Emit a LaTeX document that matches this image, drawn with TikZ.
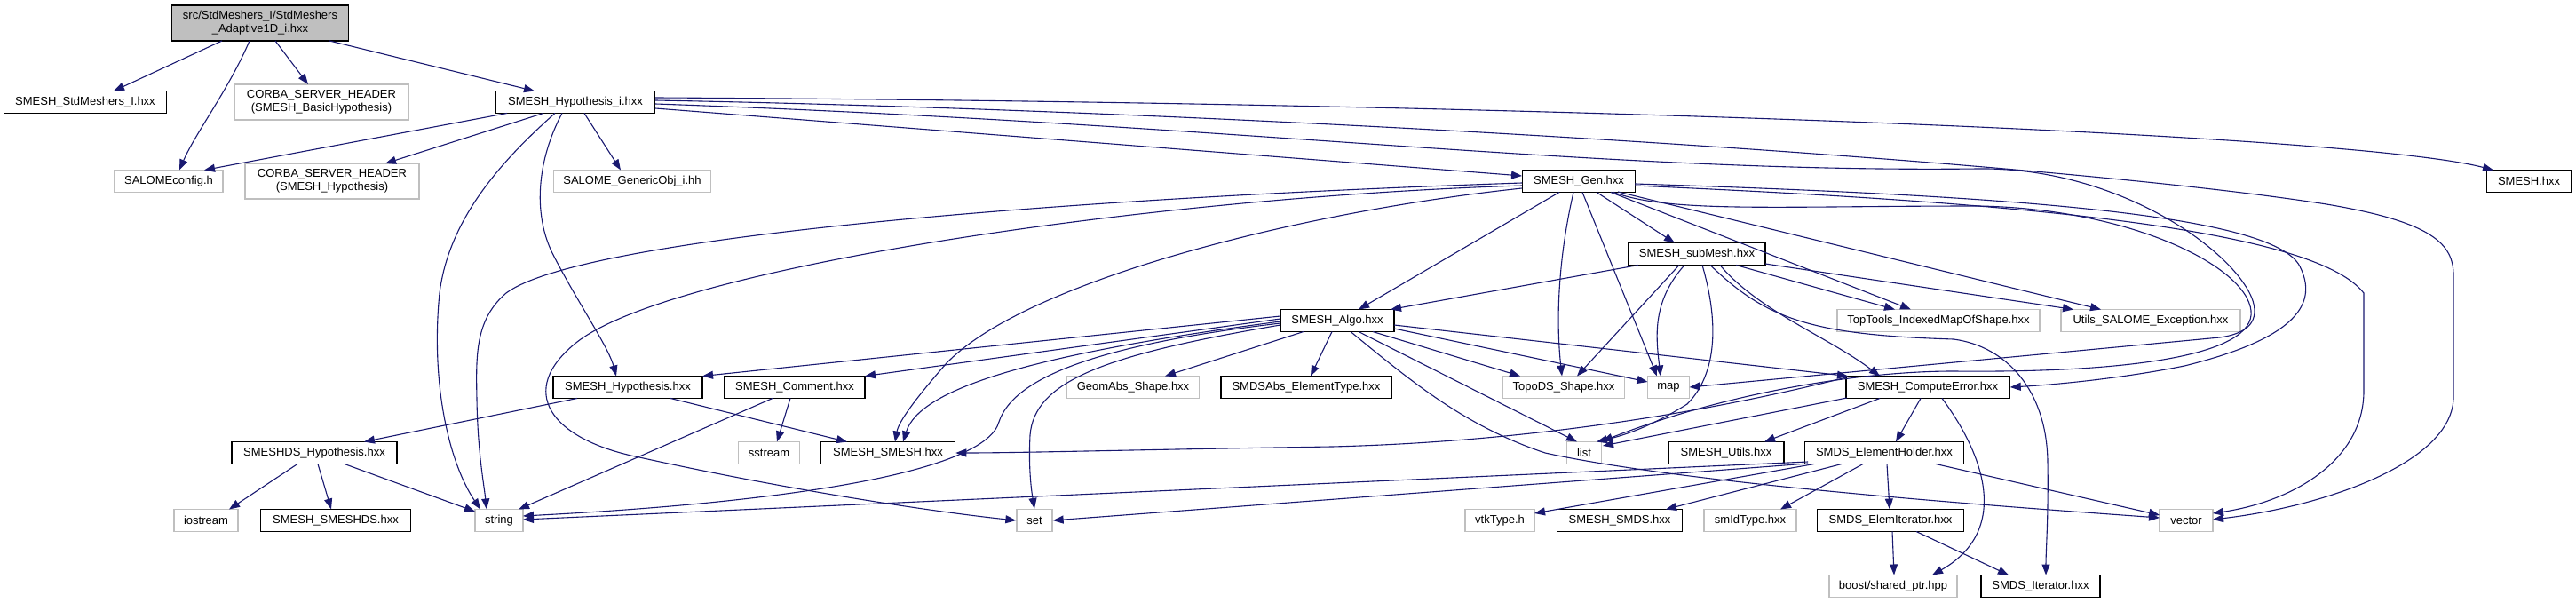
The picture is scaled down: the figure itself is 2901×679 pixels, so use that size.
\documentclass[tikz,border=0pt]{standalone}
\usepackage{fontspec}
\setmainfont{Liberation Sans}
\usetikzlibrary{arrows.meta,calc}
\definecolor{ec}{HTML}{191970}
\definecolor{gb}{HTML}{BFBFBF}
\definecolor{rootfill}{HTML}{BFBFBF}
\tikzset{
  nb/.style={draw=black, line width=1.5pt, fill=white, minimum height=25pt, inner sep=0pt, font=\fontsize{13}{15}\selectfont},
  ng/.style={draw=gb, line width=1.3pt, fill=white, minimum height=25pt, inner sep=0pt, font=\fontsize{13}{15}\selectfont},
  e/.style={draw=ec, line width=1.1pt, -{Triangle[length=12pt,width=9pt]}}
}
\begin{document}
\begin{tikzpicture}[x=1pt,y=-1pt]
\useasboundingbox (0,0) rectangle (2901,679);
% nodes
\node[nb, fill=rootfill, minimum width=199pt, minimum height=40pt, align=center] (root) at (293,26) {src/StdMeshers\_I/StdMeshers\\\_Adaptive1D\_i.hxx};
\node[nb, minimum width=183pt] (stdi) at (96,115) {SMESH\_StdMeshers\_I.hxx};
\node[ng, minimum width=196pt, minimum height=40pt, align=center] (corbab) at (362,115) {CORBA\_SERVER\_HEADER\\(SMESH\_BasicHypothesis)};
\node[nb, minimum width=179pt] (hypi) at (648,115) {SMESH\_Hypothesis\_i.hxx};
\node[ng, minimum width=122pt] (salcfg) at (190,204) {SALOMEconfig.h};
\node[ng, minimum width=196pt, minimum height=40pt, align=center] (corbah) at (374,204) {CORBA\_SERVER\_HEADER\\(SMESH\_Hypothesis)};
\node[ng, minimum width=177pt] (gobj) at (712,204) {SALOME\_GenericObj\_i.hh};
\node[nb, minimum width=127pt] (gen) at (1778,204) {SMESH\_Gen.hxx};
\node[nb, minimum width=95pt] (smesh) at (2848,204) {SMESH.hxx};
\node[nb, minimum width=154pt] (submesh) at (1911,286) {SMESH\_subMesh.hxx};
\node[nb, minimum width=128pt] (algo) at (1506,361) {SMESH\_Algo.hxx};
\node[ng, minimum width=228pt] (toptools) at (2183,361) {TopTools\_IndexedMapOfShape.hxx};
\node[ng, minimum width=202pt] (utils) at (2422,361) {Utils\_SALOME\_Exception.hxx};
\node[nb, minimum width=168pt] (hyp) at (707,436) {SMESH\_Hypothesis.hxx};
\node[nb, minimum width=158pt] (comment) at (895,436) {SMESH\_Comment.hxx};
\node[ng, minimum width=149pt] (geomabs) at (1276,436) {GeomAbs\_Shape.hxx};
\node[nb, minimum width=192pt] (smdsabs) at (1471,436) {SMDSAbs\_ElementType.hxx};
\node[ng, minimum width=137pt] (topods) at (1761,436) {TopoDS\_Shape.hxx};
\node[ng, minimum width=47pt] (map) at (1879,436) {map};
\node[nb, minimum width=184pt] (comperr) at (2171,436) {SMESH\_ComputeError.hxx};
\node[nb, minimum width=186pt] (smeshdshyp) at (354,510) {SMESHDS\_Hypothesis.hxx};
\node[ng, minimum width=69pt] (sstream) at (866,510) {sstream};
\node[nb, minimum width=151pt] (smeshsmesh) at (1000,510) {SMESH\_SMESH.hxx};
\node[ng, minimum width=39pt] (list) at (1784,510) {list};
\node[nb, minimum width=130pt] (utilsh) at (1944,510) {SMESH\_Utils.hxx};
\node[nb, minimum width=179pt] (elemholder) at (2122,510) {SMDS\_ElementHolder.hxx};
\node[ng, minimum width=72pt] (iostream) at (232,586) {iostream};
\node[nb, minimum width=169pt] (smeshds) at (378,586) {SMESH\_SMESHDS.hxx};
\node[ng, minimum width=54pt] (string) at (562,586) {string};
\node[ng, minimum width=40pt] (set) at (1165,586) {set};
\node[ng, minimum width=78pt] (vtk) at (1689,586) {vtkType.h};
\node[nb, minimum width=141pt] (smds) at (1824,586) {SMESH\_SMDS.hxx};
\node[ng, minimum width=104pt] (smid) at (1971,586) {smIdType.hxx};
\node[nb, minimum width=165pt] (elemit) at (2129,586) {SMDS\_ElemIterator.hxx};
\node[ng, minimum width=60pt] (vector) at (2462,586) {vector};
\node[ng, minimum width=144pt] (boost) at (2132,660) {boost/shared\_ptr.hpp};
\node[nb, minimum width=134pt] (smdsit) at (2298,660) {SMDS\_Iterator.hxx};
% root edges
\draw[e] ($(root)+(-43,20)$) -- ($(stdi)+(32,-12.5)$);
\draw[e] ($(root)+(-12,20)$) .. controls (258,100) and (220,150) .. ($(salcfg)+(12,-12.5)$);
\draw[e] ($(root)+(17,20)$) -- ($(corbab)+(-15,-20)$);
\draw[e] ($(root)+(78,20)$) -- ($(hypi)+(-46,-12.5)$);
% hypi edges
\draw[e] ($(hypi)+(-77,12.5)$) -- ($(salcfg)+(40,-12.5)$);
\draw[e] ($(hypi)+(-36,12.5)$) -- ($(corbah)+(60,-20)$);
\draw[e] ($(hypi)+(10,12.5)$) -- ($(gobj)+(-13,-12.5)$);
\draw[e] ($(hypi)+(-23,12.5)$) .. controls (560,185) and (505,250) .. (495,330) .. controls (485,430) and (505,520) .. ($(string)+(-21,-12.5)$);
\draw[e] ($(hypi)+(-15,12.5)$) .. controls (605,180) and (600,240) .. (622,285) .. controls (650,340) and (685,390) .. ($(hyp)+(-13,-12.5)$);
\draw[e] ($(hypi)+(90,7)$) -- ($(gen)+(-64,-6)$);
\draw[e] ($(hypi)+(90,-5)$) .. controls (1700,115) and (2650,150) .. ($(smesh)+(-40,-12.5)$);
\draw[e] ($(hypi)+(90,-2)$) .. controls (1400,125) and (2300,180) .. (2620,230) .. controls (2740,250) and (2763,275) .. (2763,310) -- (2763,447) .. controls (2763,520) and (2620,570) .. ($(vector)+(30,-1)$);
\draw[e] ($(hypi)+(90,2)$) .. controls (1400,140) and (1800,195) .. (2228,190) .. controls (2400,188) and (2539,300) .. (2539,350) .. controls (2539,370) and (2520,377) .. (2500,380) -- ($(map)+(23.5,0)$);
% gen edges
\draw[e] ($(gen)+(-22,12.5)$) -- ($(algo)+(24,-12.5)$);
\draw[e] ($(gen)+(-6,12.5)$) .. controls (1755,290) and (1752,360) .. ($(topods)+(-2,-12.5)$);
\draw[e] ($(gen)+(4,12.5)$) -- ($(map)+(-13,-12.5)$);
\draw[e] ($(gen)+(20,12.5)$) -- ($(submesh)+(-25,-12.5)$);
\draw[e] ($(gen)+(36,12.5)$) -- ($(toptools)+(-31,-12.5)$);
\draw[e] ($(gen)+(44,12)$) -- ($(utils)+(-56,-12.5)$);
\draw[e] ($(gen)+(-64,8)$) .. controls (1450,240) and (1150,320) .. (1065,410) .. controls (1030,450) and (1012,475) .. ($(smeshsmesh)+(8,-12.5)$);
\draw[e] ($(gen)+(-64,2)$) .. controls (1150,225) and (650,270) .. (570,330) .. controls (535,360) and (536,400) .. (537,450) .. controls (538,510) and (545,545) .. ($(string)+(-14,-12.5)$);
\draw[e] ($(gen)+(-64,5)$) .. controls (1300,222) and (760,300) .. (650,385) .. controls (580,440) and (620,495) .. (720,515) .. controls (880,550) and (1040,575) .. (set.west);
\draw[e] ($(gen)+(63,5)$) .. controls (2200,225) and (2600,250) .. (2662,330) -- (2662,440) .. controls (2662,520) and (2580,565) .. ($(vector)+(30,-8)$);
\draw[e] ($(gen)+(63,3)$) .. controls (2250,220) and (2560,240) .. (2590,300) .. controls (2610,340) and (2590,380) .. (2460,412) .. controls (2380,428) and (2300,434) .. (comperr.east);
\draw[e] ($(gen)+(39,12.5)$) .. controls (1880,240) and (2000,232) .. (2228,232) .. controls (2400,235) and (2530,300) .. (2535,350) .. controls (2540,400) and (2400,420) .. (2200,418) .. controls (2100,418) and (1950,440) .. (list.north east);
% submesh edges
\draw[e] ($(submesh)+(-66,12.5)$) -- ($(algo)+(60,-12.5)$);
\draw[e] ($(submesh)+(-20,12.5)$) -- ($(topods)+(15,-12.5)$);
\draw[e] ($(submesh)+(-14,12.5)$) .. controls (1860,340) and (1865,380) .. ($(map)+(-9,-12.5)$);
\draw[e] ($(submesh)+(6,12.5)$) .. controls (1935,360) and (1935,420) .. (1900,455) .. controls (1860,480) and (1830,490) .. ($(list)+(14,-12.5)$);
\draw[e] ($(submesh)+(44,12.5)$) -- ($(toptools)+(-49,-12.5)$);
\draw[e] ($(submesh)+(77,11)$) -- ($(utils)+(-87,-12.5)$);
\draw[e] ($(submesh)+(26,12.5)$) .. controls (1980,350) and (2060,380) .. ($(comperr)+(-54,-12.5)$);
\draw[e] ($(submesh)+(15,12.5)$) .. controls (1990,360) and (2040,377) .. (2200,382) .. controls (2260,390) and (2305,440) .. (2306,520) .. controls (2307,580) and (2304,620) .. ($(smdsit)+(6,-12.5)$);
% algo edges
\draw[e] ($(algo)+(-64,-5)$) -- ($(hyp)+(84,-12.5)$);
\draw[e] ($(algo)+(-64,-2)$) -- ($(comment)+(79,-12.5)$);
\draw[e] ($(algo)+(-64,1)$) .. controls (1150,400) and (1035,440) .. ($(smeshsmesh)+(17,-12.5)$);
\draw[e] ($(algo)+(-64,3)$) .. controls (1220,390) and (1140,430) .. (1125,475) .. controls (1110,530) and (900,565) .. ($(string)+(27,-5)$);
\draw[e] ($(algo)+(-64,5)$) .. controls (1240,400) and (1165,430) .. (1160,490) .. controls (1158,530) and (1162,555) .. (set.north);
\draw[e] ($(algo)+(-38,12.5)$) -- ($(geomabs)+(36,-12.5)$);
\draw[e] ($(algo)+(-6,12.5)$) -- ($(smdsabs)+(5,-12.5)$);
\draw[e] ($(algo)+(40,12.5)$) -- ($(topods)+(-49,-12.5)$);
\draw[e] ($(algo)+(64,9)$) -- ($(map)+(-23.5,-6)$);
\draw[e] ($(algo)+(64,5)$) -- ($(comperr)+(-90,-12.5)$);
\draw[e] ($(algo)+(24,12.5)$) -- ($(list)+(-8,-12.5)$);
\draw[e] ($(algo)+(15,12.5)$) .. controls (1590,430) and (1650,480) .. (1740,510) .. controls (1900,545) and (2250,570) .. ($(vector)+(-30,-3)$);
% hyp, comment, smeshdshyp
\draw[e] ($(hyp)+(-57,12.5)$) -- ($(smeshdshyp)+(56,-12.5)$);
\draw[e] ($(hyp)+(48,12.5)$) -- ($(smeshsmesh)+(-46,-12.5)$);
\draw[e] ($(comment)+(-5,12.5)$) -- ($(sstream)+(9,-12.5)$);
\draw[e] ($(comment)+(-25,12.5)$) -- ($(string)+(22,-12.5)$);
\draw[e] ($(smeshdshyp)+(-19,12.5)$) -- ($(iostream)+(26,-12.5)$);
\draw[e] ($(smeshdshyp)+(4,12.5)$) -- ($(smeshds)+(-5,-12.5)$);
\draw[e] ($(smeshdshyp)+(34,12.5)$) -- ($(string)+(-27,-10)$);
% comperr edges
\draw[e] ($(comperr)+(-92,-11)$) .. controls (1900,470) and (1700,498) .. (1500,503) .. controls (1300,506) and (1150,510) .. (smeshsmesh.east);
\draw[e] ($(comperr)+(-91,12)$) -- ($(list)+(21,-8)$);
\draw[e] ($(comperr)+(-54,12.5)$) -- ($(utilsh)+(43,-12.5)$);
\draw[e] ($(comperr)+(-8,12.5)$) -- ($(elemholder)+(13,-12.5)$);
\draw[e] ($(comperr)+(16,12.5)$) .. controls (2240,520) and (2260,600) .. ($(boost)+(44,-12.5)$);
% elemholder edges
\draw[e] ($(elemholder)+(-79,12.5)$) -- ($(vtk)+(39,-8)$);
\draw[e] ($(elemholder)+(-48,12.5)$) -- ($(smds)+(52,-12.5)$);
\draw[e] ($(elemholder)+(-24,12.5)$) -- ($(smid)+(34,-12.5)$);
\draw[e] ($(elemholder)+(3,12.5)$) -- ($(elemit)+(-1,-12.5)$);
\draw[e] ($(elemholder)+(58,12.5)$) -- ($(vector)+(-30,-6)$);
\draw[e] ($(elemholder)+(-86,12)$) -- (set.east);
\draw[e] ($(elemholder)+(-86,10)$) -- ($(string)+(27,-1)$);
% elemit edges
\draw[e] ($(elemit)+(2,12.5)$) -- ($(boost)+(1,-12.5)$);
\draw[e] ($(elemit)+(29,12.5)$) -- ($(smdsit)+(-36,-12.5)$);
\end{tikzpicture}
\end{document}
